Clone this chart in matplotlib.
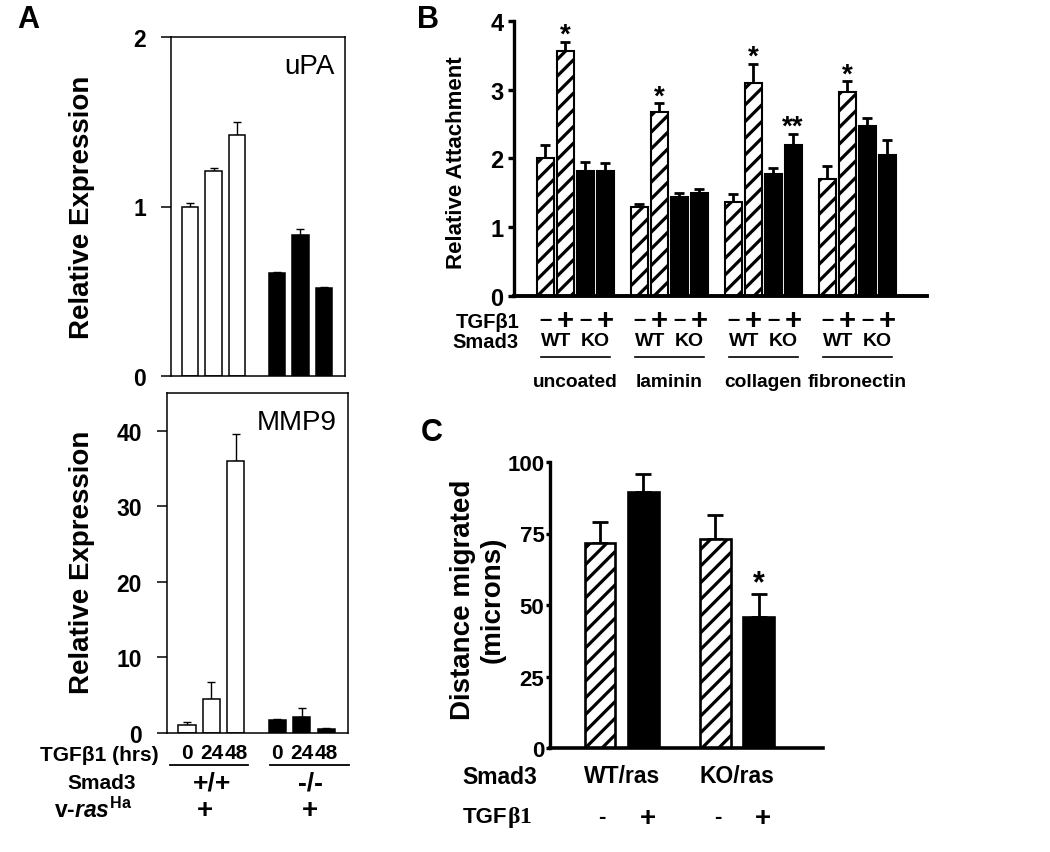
import matplotlib
matplotlib.use("Agg")
import matplotlib.pyplot as plt
from matplotlib.lines import Line2D
import numpy as np

plt.rcParams.update({
    "font.family": ["Liberation Sans", "DejaVu Sans"],
    "font.weight": "bold",
    "mathtext.fontset": "custom",
    "mathtext.rm": "Liberation Serif",
    "mathtext.it": "Liberation Sans:italic:bold",
    "mathtext.bf": "Liberation Sans:bold",
    "hatch.linewidth": 2.3,
})

# ---- panel A: uPA / MMP9 expression (Smad3 +/+ vs -/-, TGFb1 0/24/48 h)
hours = ["0", "24", "48"]
upa_wt = [1.00, 1.21, 1.42]
upa_wt_err = [0.02, 0.02, 0.08]
upa_ko = [0.61, 0.83, 0.52]
upa_ko_err = [0.005, 0.04, 0.005]
mmp9_wt = [1.0, 4.5, 36.0]
mmp9_wt_err = [0.5, 2.3, 3.6]
mmp9_ko = [1.7, 2.1, 0.5]
mmp9_ko_err = [0.2, 1.25, 0.1]

# ---- panel B: attachment on coated surfaces
coatings = ["uncoated", "laminin", "collagen", "fibronectin"]
att_wt_minus = [2.00, 1.29, 1.36, 1.70]
att_wt_plus = [3.56, 2.67, 3.10, 2.96]
att_ko_minus = [1.82, 1.44, 1.77, 2.47]
att_ko_plus = [1.81, 1.50, 2.20, 2.05]
att_wt_minus_err = [0.20, 0.04, 0.12, 0.19]
att_wt_plus_err = [0.13, 0.13, 0.27, 0.16]
att_ko_minus_err = [0.13, 0.06, 0.09, 0.12]
att_ko_plus_err = [0.12, 0.06, 0.16, 0.22]
att_marks = [["", "*", "", ""], ["", "*", "", ""], ["", "*", "", "**"], ["", "*", "", ""]]

# ---- panel C: migration
genotypes = ["WT/ras", "KO/ras"]
mig_minus = [71.8, 73.2]
mig_plus = [89.5, 45.7]
mig_minus_err = [7.2, 8.4]
mig_plus_err = [6.4, 8.0]

W, H = 1050, 853
fig = plt.figure(figsize=(W / 100, H / 100), dpi=100)


def fx(px):
    return px / W


def fy(py):
    return 1 - py / H


def px_axes(x0, y0, x1, y1):
    return fig.add_axes([x0 / W, 1 - y1 / H, (x1 - x0) / W, (y1 - y0) / H])


def ax_y(py, y0, y1):
    # pixel row -> axes fraction for an axes spanning rows y0..y1
    return (y1 - py) / (y1 - y0)


def hline(x0, x1, y, lw=1.3):
    fig.add_artist(Line2D([fx(x0), fx(x1)], [fy(y), fy(y)], color="black", lw=lw))


def upper_err(ax, x, y, e, lw, cap):
    ax.errorbar(x, y, yerr=[np.zeros(len(y)), e], fmt="none", ecolor="black",
                elinewidth=lw, capsize=cap, capthick=lw, zorder=1)


# ================= panel A =================
wt_x = np.arange(3)
ko_x = np.arange(3) + 3.7
bw_a = 0.7

ax_u = px_axes(171, 38, 345, 377)
ax_m = px_axes(167, 394, 348, 734)
for ax, wt, wte, ko, koe, ylim, yt, name in [
        (ax_u, upa_wt, upa_wt_err, upa_ko, upa_ko_err, 2, [0, 1, 2], "uPA"),
        (ax_m, mmp9_wt, mmp9_wt_err, mmp9_ko, mmp9_ko_err, 45, [0, 10, 20, 30, 40], "MMP9")]:
    upper_err(ax, wt_x, wt, wte, 1.0, 3)
    upper_err(ax, ko_x, ko, koe, 1.0, 3)
    ax.bar(wt_x, wt, bw_a, color="white", edgecolor="black", lw=1.1, zorder=2)
    ax.bar(ko_x, ko, bw_a, color="black", edgecolor="black", lw=1.1, zorder=2)
    ax.set_xlim(-0.82, 6.6)
    ax.set_ylim(0, ylim)
    ax.set_yticks(yt)
    for s in ax.spines.values():
        s.set_linewidth(1.1)
    ax.tick_params(axis="y", direction="out", length=7, width=1.1, labelsize=16.5, pad=11)
    ax.text(0.94, 0.915, name, transform=ax.transAxes, ha="right", va="center",
            fontsize=20, fontweight="normal")

ax_u.set_xticks([])
ax_m.set_xticks(list(wt_x) + list(ko_x), hours + hours)
ax_m.tick_params(axis="x", length=0, labelsize=15, pad=7)

fig.text(fx(82), fy(207), "Relative Expression", rotation=90, ha="center", va="center", fontsize=20)
fig.text(fx(82), fy(562), "Relative Expression", rotation=90, ha="center", va="center", fontsize=20)
fig.text(fx(28), fy(20), "A", ha="center", va="center", fontsize=22)

fig.text(fx(159), fy(756), "TGFβ1 (hrs)", ha="right", va="center", fontsize=15)
hline(170, 248, 766)
hline(270, 349, 766)
fig.text(fx(102), fy(784), "Smad3", ha="center", va="center", fontsize=15)
fig.text(fx(212), fy(784), "+/+", ha="center", va="center", fontsize=19)
fig.text(fx(310), fy(784), "-/-", ha="center", va="center", fontsize=19)
fig.text(fx(54), fy(810), r"v-$\mathit{ras}^{\mathbf{Ha}}$", ha="left", va="center", fontsize=16.5)
fig.text(fx(205), fy(811), "+", ha="center", va="center", fontsize=20)
fig.text(fx(310), fy(811), "+", ha="center", va="center", fontsize=20)

# ================= panel B =================
B_TOP, B_BOT = 21.7, 297
ax_b = px_axes(514, B_TOP, 927, B_BOT)
grp = np.arange(4) * 4.7
bw_b = 0.85
series_b = [
    (att_wt_minus, att_wt_minus_err, "hatch"),
    (att_wt_plus, att_wt_plus_err, "hatch"),
    (att_ko_minus, att_ko_minus_err, "solid"),
    (att_ko_plus, att_ko_plus_err, "solid"),
]
for i, (vals, errs, style) in enumerate(series_b):
    xs = grp + i
    upper_err(ax_b, xs, vals, errs, 2.0, 3.5)
    if style == "hatch":
        ax_b.bar(xs, vals, bw_b, color="white", edgecolor="black", hatch="//", lw=1.5, zorder=2)
    else:
        ax_b.bar(xs, vals, bw_b, color="black", edgecolor="black", lw=1.5, zorder=2)
    for g in range(4):
        mark = att_marks[g][i]
        if mark:
            ax_b.text(xs[g], vals[g] + errs[g], mark, ha="center", va="baseline", fontsize=20)

ax_b.set_xlim(-1.57, 19.1)
ax_b.set_ylim(0, 4)
ax_b.set_yticks([0, 1, 2, 3, 4])
ax_b.set_xticks([])
ax_b.spines[["top", "right"]].set_visible(False)
ax_b.spines["left"].set_linewidth(2.4)
ax_b.spines["bottom"].set_linewidth(2.8)
ax_b.tick_params(axis="y", direction="out", length=4.5, width=2.4, labelsize=17, pad=3)

fig.text(fx(457), fy(163), "Relative Attachment", rotation=90, ha="center", va="center", fontsize=16)
fig.text(fx(428), fy(20), "B", ha="center", va="center", fontsize=22)

trans_b = ax_b.get_xaxis_transform()
fig.text(fx(519), fy(322), "TGFβ1", ha="right", va="center", fontsize=14.5)
fig.text(fx(519), fy(342), "Smad3", ha="right", va="center", fontsize=14.5)
for g in range(4):
    for i, sgn in enumerate(["–", "+", "–", "+"]):
        ax_b.text(grp[g] + i, ax_y(321, B_TOP, B_BOT), sgn, transform=trans_b,
                  ha="center", va="center", fontsize=21 if sgn == "+" else 16)
    ax_b.text(grp[g] + 0.55, ax_y(342, B_TOP, B_BOT), "WT", transform=trans_b,
              ha="center", va="center", fontsize=14)
    ax_b.text(grp[g] + 2.5, ax_y(342, B_TOP, B_BOT), "KO", transform=trans_b,
              ha="center", va="center", fontsize=14)
    ax_b.plot([grp[g] - 0.2, grp[g] + 3.25], [ax_y(358, B_TOP, B_BOT)] * 2, color="black",
              lw=1.2, transform=trans_b, clip_on=False)
    ax_b.text(grp[g] + 1.5, ax_y(383, B_TOP, B_BOT), coatings[g], transform=trans_b,
              ha="center", va="center", fontsize=13.8)

# ================= panel C =================
C_TOP, C_BOT = 463, 749
ax_c = px_axes(550, C_TOP, 823, C_BOT)
pair = np.array([0, 2.65])
bw_c = 0.71
upper_err(ax_c, pair, mig_minus, mig_minus_err, 2.0, 5.5)
upper_err(ax_c, pair + 1, mig_plus, mig_plus_err, 2.0, 5.5)
ax_c.bar(pair, mig_minus, bw_c, color="white", edgecolor="black", hatch="//", lw=1.9, zorder=2)
ax_c.bar(pair + 1, mig_plus, bw_c, color="black", edgecolor="black", lw=1.9, zorder=2)
ax_c.annotate("*", (pair[1] + 1, mig_plus[1] + mig_plus_err[1]), xytext=(0, 2),
              textcoords="offset points", ha="center", va="baseline", fontsize=22)
ax_c.set_xlim(-1.15, 5.13)
ax_c.set_ylim(0, 100)
ax_c.set_yticks([0, 25, 50, 75, 100])
ax_c.set_xticks([])
ax_c.spines[["top", "right"]].set_visible(False)
ax_c.spines["left"].set_linewidth(2.4)
ax_c.spines["bottom"].set_linewidth(2.6)
ax_c.tick_params(axis="y", direction="out", length=3, width=2.4, labelsize=16, pad=1)

fig.text(fx(478), fy(600), "Distance migrated\n(microns)", rotation=90, ha="center", va="center",
         fontsize=20, multialignment="center", linespacing=1.2)
fig.text(fx(432), fy(433), "C", ha="center", va="center", fontsize=22)

trans_c = ax_c.get_xaxis_transform()
fig.text(fx(500), fy(778), "Smad3", ha="center", va="center", fontsize=16.5)
for k, name in enumerate(genotypes):
    ax_c.text(pair[k] + 0.5, ax_y(777, C_TOP, C_BOT), name, transform=trans_c,
              ha="center", va="center", fontsize=16.5)
    ax_c.text(pair[k] + 0.05, ax_y(818, C_TOP, C_BOT), "-", transform=trans_c,
              ha="center", va="center", fontsize=16)
    ax_c.text(pair[k] + 1.1, ax_y(819, C_TOP, C_BOT), "+", transform=trans_c,
              ha="center", va="center", fontsize=20)
fig.text(fx(507), fy(818), "TGF", ha="right", va="center", fontsize=16)
fig.text(fx(507), fy(818), r"$\mathrm{\beta 1}$", ha="left", va="center", fontsize=17)

fig.savefig("out.png", dpi=100)
